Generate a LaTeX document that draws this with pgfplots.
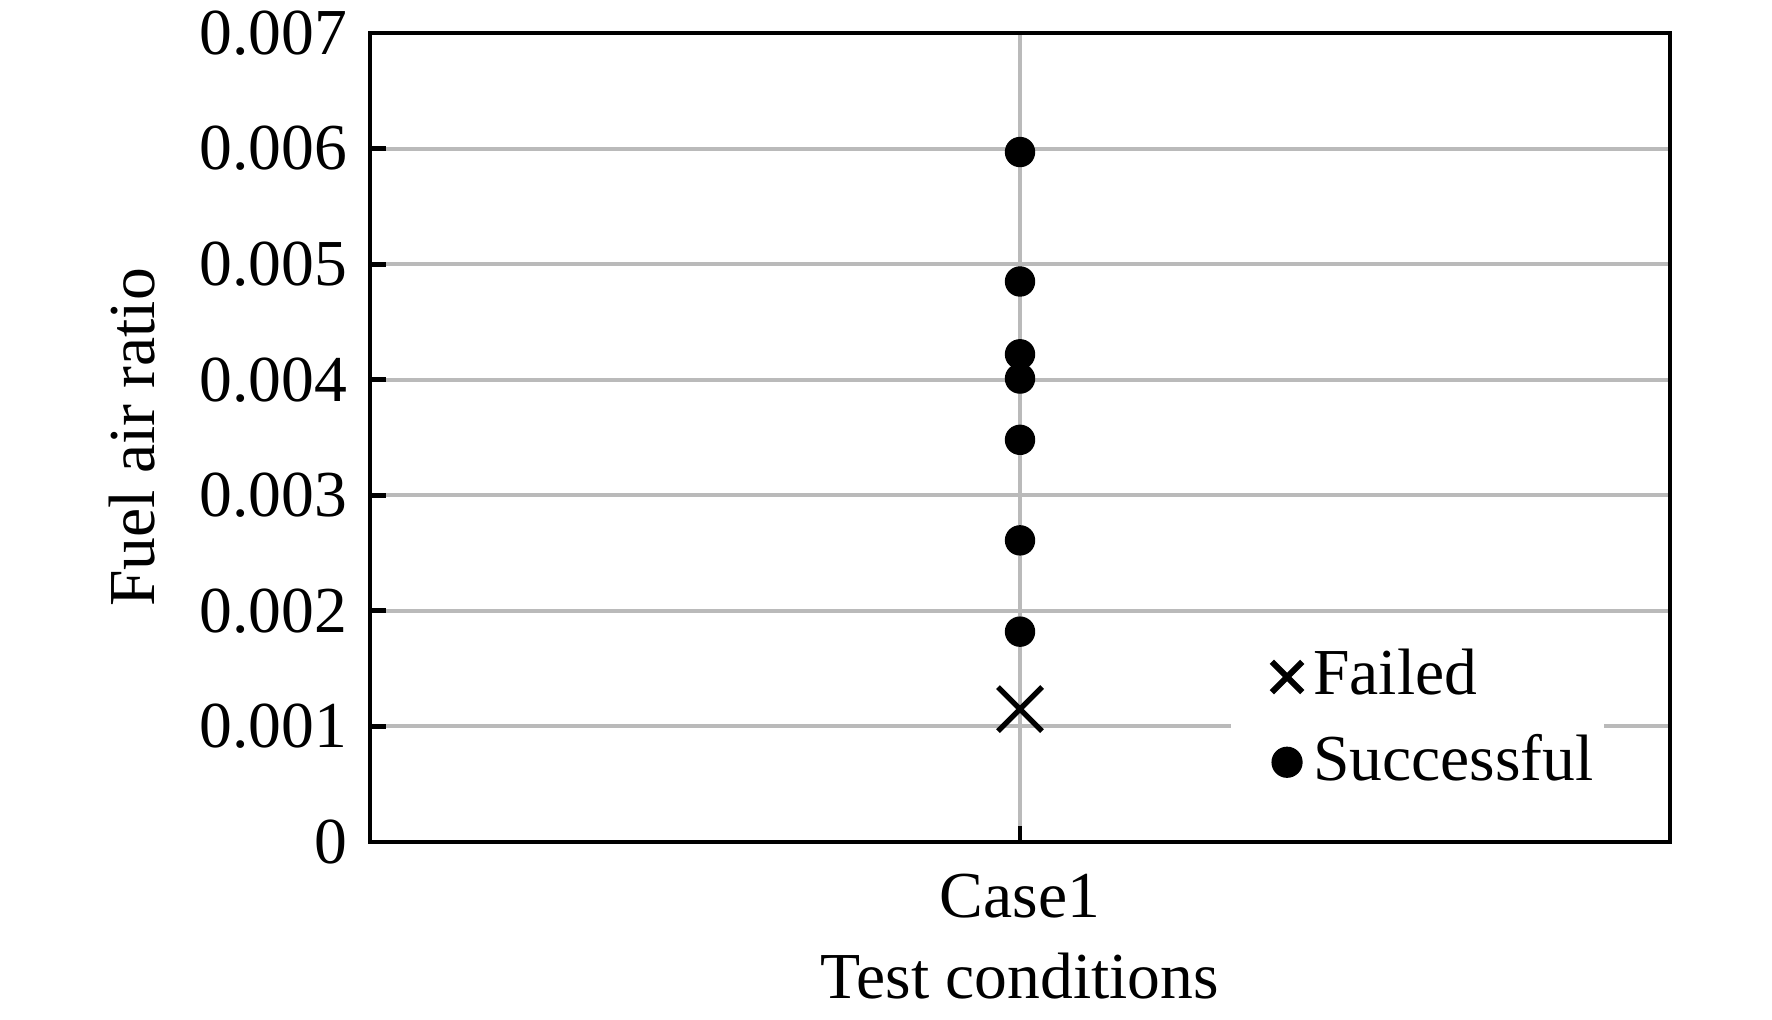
\documentclass[border=0pt]{standalone}
\usepackage{pgfplots}
\pgfplotsset{compat=1.18}
\usepackage{fontspec}
\setmainfont{Liberation Serif}
\begin{document}
\fontsize{16.4}{19.5}\selectfont
\begin{tikzpicture}
\begin{axis}[
  scale only axis,
  width=325pt, height=202.25pt,
  xmin=-1, xmax=1,
  ymin=0, ymax=0.007,
  scaled y ticks=false,
  xtick={0}, xticklabels={Case1},
  ytick={0,0.001,0.002,0.003,0.004,0.005,0.006,0.007},
  yticklabels={0,0.001,0.002,0.003,0.004,0.005,0.006,0.007},
  xtick pos=bottom, ytick pos=left,
  tick align=inside,
  major tick length=4pt,
  every tick/.style={black, line width=1.2pt},
  axis line style={line width=1.2pt},
  grid=major,
  major grid style={black!27, line width=1pt},
  xlabel={Test conditions},
  ylabel={Fuel air ratio},
  xticklabel shift=2.3pt,
  xlabel shift=-2.3pt,
  ylabel shift=0pt,
  /pgf/number format/assume math mode=true,
  tick label style={font=\fontsize{16.4}{19.5}\selectfont},
  label style={font=\fontsize{16.4}{19.5}\selectfont},
  legend style={at={(rel axis cs:0.95,0.0234)}, anchor=south east, draw=none, fill=white,
    font=\fontsize{16.4}{19.5}\selectfont, row sep=3.4pt, inner xsep=0.6pt, inner ysep=6pt},
  legend cell align=left,
  clip=false,
]
\coordinate (SW) at (rel axis cs:0,0);
\coordinate (NE) at (rel axis cs:1,1);
\addplot[only marks, mark=x, mark size=7.8pt, line width=1.3pt, black,
  legend image code/.code={\path[draw=none,fill=none] (-13.4pt,0pt) rectangle (3.8pt,0.1pt);\draw[black, line width=1.5pt] (-3.8pt,-3.8pt)--(3.8pt,3.8pt) (-3.8pt,3.8pt)--(3.8pt,-3.8pt);}]
  coordinates {(0,0.00115)};
\addlegendentry{Failed}
\addplot[only marks, mark=*, mark size=3.6pt, black,
  legend image code/.code={\path[draw=none,fill=none] (-13.4pt,0pt) rectangle (3.8pt,0.1pt);\fill[black] (0pt,0pt) circle (3.7pt);}]
  coordinates {(0,0.00182) (0,0.00261) (0,0.00348) (0,0.00401) (0,0.00422) (0,0.00485) (0,0.00597)};
\addlegendentry{Successful}
\end{axis}
\pgfresetboundingbox
\path ([shift={(-92.5pt,-44.25pt)}]SW) rectangle ([shift={(25.5pt,8.25pt)}]NE);
\end{tikzpicture}
\end{document}
